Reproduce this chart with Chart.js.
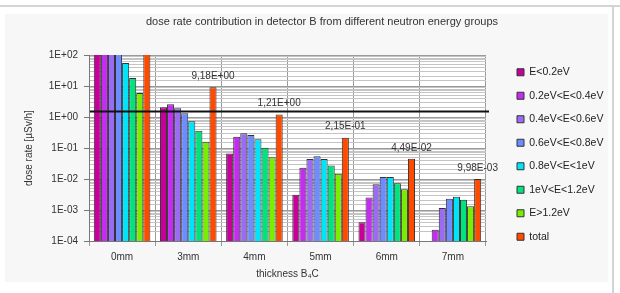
<!DOCTYPE html>
<html>
<head>
<meta charset="utf-8">
<script src="https://cdn.jsdelivr.net/npm/chart.js@4.4.1/dist/chart.umd.min.js"></script>
<style>
  html, body { margin: 0; padding: 0; background: #fff; }
  #wrap { position: relative; width: 620px; height: 293px; overflow: hidden; }
  #topline { position: absolute; left: 0; top: 5px; width: 620px; height: 2px; background: #d4d4d4; }
  #rightline { position: absolute; left: 612px; top: 5px; width: 2px; height: 288px; background: #d4d4d4; }
  #panel { position: absolute; left: 5px; top: 14px; width: 603px; height: 268px; background: #f7f7f7; }
  canvas { position: absolute; left: 0; top: 0; }
</style>
</head>
<body>
<div id="wrap">
  <div id="topline"></div>
  <div id="rightline"></div>
  <div id="panel"></div>
  <canvas id="chart" width="620" height="293"></canvas>
</div>
<script>
const thickness = ['0mm', '3mm', '4mm', '5mm', '6mm', '7mm']
const groupNames = ['E<0.2eV', '0.2eV<E<0.4eV', '0.4eV<E<0.6eV', '0.6eV<E<0.8eV', '0.8eV<E<1eV', '1eV<E<1.2eV', 'E>1.2eV', 'total']
const groupColors = ['#c8009a', '#c42cf2', '#9a6cf4', '#6c8cff', '#00e4fa', '#00e47e', '#78ee00', '#ff4a00']

// dose rate in µSv/h per energy group (0mm bars run off the top of the axis)
const e0 = [200, 2.06, 0.066, 0.0031, 0.0004, 0.0001]
const e1 = [180, 2.58, 0.232, 0.023, 0.00254, 0.00023]
const e2 = [150, 1.9, 0.298, 0.044, 0.0068, 0.00117]
const e3 = [120, 1.31, 0.263, 0.054, 0.0115, 0.0023]
const e4 = [55, 0.73, 0.19, 0.044, 0.0115, 0.00266]
const e5 = [18, 0.36, 0.102, 0.0275, 0.0073, 0.00214]
const e6 = [5.9, 0.16, 0.05, 0.0147, 0.0047, 0.00131]
const total = [729, 9.18, 1.21, 0.215, 0.0449, 0.00998]
const limitValue = 1.5

const FONT = '"Liberation Sans", Arial, sans-serif'
const seriesValues = [e0, e1, e2, e3, e4, e5, e6, total]

// 9.18 -> "9,18E+00"
const fmtExp = (v) => {
  const [m, e] = v.toExponential(2).split('e')
  const n = parseInt(e)
  return m.replace('.', ',') + 'E' + (n < 0 ? '-' : '+') + String(Math.abs(n)).padStart(2, '0')
}

const isDecade = (v) => Math.abs(Math.log10(v) - Math.round(Math.log10(v))) < 1e-9

const plotBackground = {
  id: 'plotBackground',
  beforeDraw(chart) {
    const { ctx, chartArea: a } = chart
    ctx.save()
    ctx.fillStyle = '#ffffff'
    ctx.fillRect(a.left, a.top, a.right - a.left, a.bottom - a.top)
    ctx.restore()
  }
}

// give the legend a fixed width and leave a gap between plot and legend
const legendGap = {
  id: 'legendGap',
  afterInit(chart) {
    const lg = chart.legend
    const fit = lg.fit
    lg.fit = function () {
      fit.call(this)
      this.width = 128
    }
  },
  afterLayout(chart) {
    chart.legend.left += 18
  }
}

// limit line and value labels above the total bars
const overlays = {
  id: 'overlays',
  afterDatasetsDraw(chart) {
    const { ctx, chartArea: a } = chart
    const y = chart.scales.y.getPixelForValue(limitValue)
    ctx.save()
    ctx.strokeStyle = '#111'
    ctx.lineWidth = 2
    ctx.beginPath()
    ctx.moveTo(a.left + 1, y)
    ctx.lineTo(a.right + 3, y)
    ctx.stroke()

    const meta = chart.getDatasetMeta(chart.data.datasets.length - 1)
    ctx.font = '10px ' + FONT
    ctx.fillStyle = '#333'
    ctx.textAlign = 'center'
    ctx.textBaseline = 'middle'
    meta.data.forEach((bar, i) => {
      const ty = bar.y - 11
      if (ty < a.top) return
      ctx.fillText(fmtExp(total[i]), bar.x, ty)
    })
    ctx.restore()
  }
}

const ctx = document.getElementById('chart').getContext('2d')
new Chart(ctx, {
  type: 'bar',
  data: {
    labels: thickness,
    datasets: groupNames.map((name, i) => ({
      label: name,
      data: seriesValues[i],
      backgroundColor: groupColors[i],
      borderColor: '#333',
      borderWidth: 1,
      categoryPercentage: 0.855,
      barPercentage: 1.0
    }))
  },
  options: {
    responsive: false,
    animation: false,
    devicePixelRatio: 1,
    layout: { padding: { left: 30, right: 6, top: 0, bottom: 12 } },
    plugins: {
      title: {
        display: true,
        text: 'dose rate contribution in detector B from different neutron energy groups',
        color: '#333',
        font: { family: FONT, size: 11, weight: 'normal', lineHeight: 1.2 },
        padding: { top: 15, bottom: 26.8 }
      },
      legend: {
        position: 'right',
        align: 'start',
        title: { display: true, text: '', font: { size: 10 }, padding: { top: 0, bottom: 42 } },
        labels: {
          color: '#222',
          font: { family: FONT, size: 10.5 },
          boxWidth: 7,
          boxHeight: 7,
          padding: 13
        }
      },
      tooltip: { enabled: false }
    },
    scales: {
      x: {
        grid: { color: '#9a9a9a', tickLength: 5, offset: true },
        border: { color: '#777' },
        ticks: { color: '#333', font: { family: FONT, size: 10 }, padding: 5 },
        title: {
          display: true,
          text: 'thickness B₄C',
          color: '#333',
          font: { family: FONT, size: 10 },
          padding: { top: 0, bottom: 1 }
        }
      },
      y: {
        type: 'logarithmic',
        min: 0.0001,
        max: 100,
        afterFit(scale) { scale.width = 59 },
        grid: {
          color: (c) => (c.tick && isDecade(c.tick.value) ? '#9a9a9a' : '#c4c4c4'),
          tickColor: (c) => (c.tick && isDecade(c.tick.value) ? '#777' : 'rgba(0,0,0,0)'),
          tickLength: 5
        },
        border: { color: '#777' },
        ticks: {
          autoSkip: false,
          color: '#333',
          font: { family: FONT, size: 10 },
          padding: 6,
          callback: (v) => {
            if (!isDecade(v)) return ''
            const n = Math.round(Math.log10(v))
            return '1E' + (n < 0 ? '-' : '+') + String(Math.abs(n)).padStart(2, '0')
          }
        },
        title: {
          display: true,
          text: 'dose rate [µSv/h]',
          color: '#333',
          font: { family: FONT, size: 10 },
          padding: { top: -7, bottom: 0 }
        }
      }
    }
  },
  plugins: [plotBackground, legendGap, overlays]
})
</script>
</body>
</html>
